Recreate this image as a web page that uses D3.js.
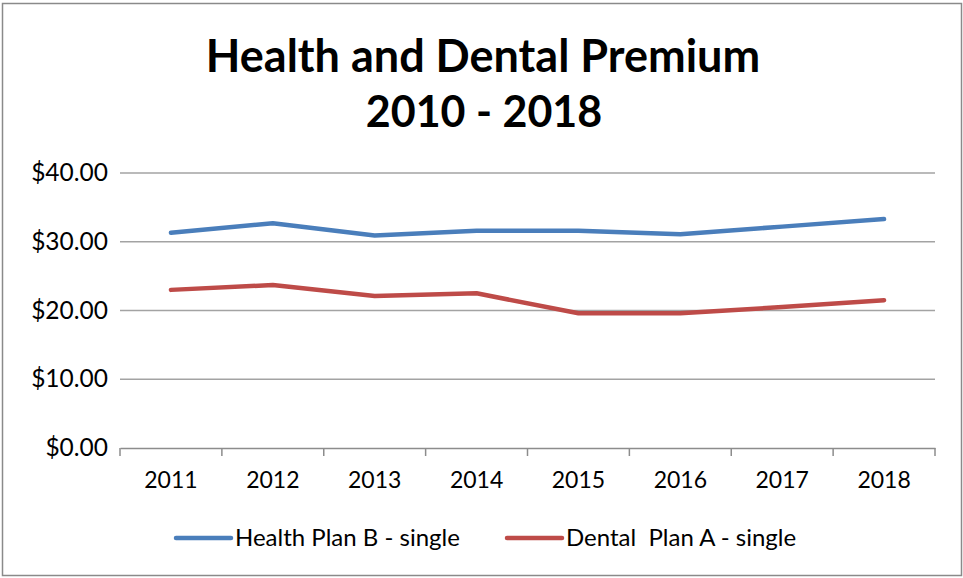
<!DOCTYPE html>
<html>
<head>
<meta charset="utf-8">
<script src="https://d3js.org/d3.v7.min.js"></script>
<style>
  body { margin: 0; background: #fff; }
  text { font-family: Lato, "Open Sans", sans-serif; fill: #000; }
</style>
</head>
<body>
<script>
// chart data
var years = ["2011", "2012", "2013", "2014", "2015", "2016", "2017", "2018"];
var health = [31.3, 32.7, 30.9, 31.6, 31.6, 31.1, 32.2, 33.3];
var dental = [23.0, 23.7, 22.1, 22.5, 19.6, 19.6, 20.5, 21.5];
var yTicks = [0, 10, 20, 30, 40];
var seriesNames = ["Health Plan B - single", "Dental  Plan A - single"];
var seriesColors = ["#4a7ebb", "#be4b48"];

var w = 963, h = 578;
var svg = d3.select("body").append("svg")
  .attr("width", w)
  .attr("height", h);

// outer frame
svg.append("rect")
  .attr("x", 2.5).attr("y", 3.5)
  .attr("width", 959).attr("height", 572)
  .attr("fill", "none")
  .attr("stroke", "#8a8a8a")
  .attr("stroke-width", 1.5);

// title
var title = svg.append("text")
  .attr("text-anchor", "middle")
  .attr("font-weight", "bold")
  .attr("font-size", 45);
title.append("tspan").attr("x", 483).attr("y", 72).text("Health and Dental Premium");
title.append("tspan").attr("x", 484).attr("y", 127).attr("font-size", 43).text("2010 - 2018");

var plotLeft = 120, plotRight = 935, plotTop = 173, plotBottom = 448;

var x = d3.scaleBand().domain(years).range([plotLeft, plotRight]);
var y = d3.scaleLinear().domain([0, 40]).range([plotBottom, plotTop]);

// gridlines
svg.append("g").selectAll("line")
  .data(yTicks.filter(function(d) { return d > 0; }))
  .enter().append("line")
  .attr("x1", plotLeft).attr("x2", plotRight)
  .attr("y1", function(d) { return y(d); })
  .attr("y2", function(d) { return y(d); })
  .attr("stroke", "#a3a3a3")
  .attr("stroke-width", 1.5);

// y labels
svg.append("g").selectAll("text")
  .data(yTicks)
  .enter().append("text")
  .attr("x", 108)
  .attr("y", function(d) { return y(d) + 8; })
  .attr("text-anchor", "end")
  .attr("font-size", 24.5)
  .text(function(d) { return d3.format("$.2f")(d); });

// x axis
var xAxis = d3.axisBottom(x).tickSize(0).tickPadding(24);
var gx = svg.append("g")
  .attr("transform", "translate(0," + plotBottom + ")")
  .call(xAxis);
gx.select(".domain").attr("stroke", "#8c8c8c").attr("stroke-width", 1.5);
gx.selectAll("text").attr("font-size", 23).attr("font-family", null);

// tick marks at category boundaries
var bounds = years.map(function(d) { return x(d); }).concat([plotRight]);
svg.append("g").selectAll("line")
  .data(bounds)
  .enter().append("line")
  .attr("x1", function(d) { return d; })
  .attr("x2", function(d) { return d; })
  .attr("y1", plotBottom).attr("y2", plotBottom + 8)
  .attr("stroke", "#8c8c8c")
  .attr("stroke-width", 1.5);

// lines
var line = d3.line()
  .x(function(d, i) { return x(years[i]) + x.bandwidth() / 2; })
  .y(function(d) { return y(d); });

[health, dental].forEach(function(s, i) {
  svg.append("path")
    .datum(s)
    .attr("d", line)
    .attr("fill", "none")
    .attr("stroke", seriesColors[i])
    .attr("stroke-width", 4.5)
    .attr("stroke-linecap", "round")
    .attr("stroke-linejoin", "round");
});

// legend
var legendX = [176, 507];
seriesNames.forEach(function(name, i) {
  var g = svg.append("g").attr("transform", "translate(" + legendX[i] + ",538)");
  g.append("line")
    .attr("x1", 0).attr("x2", 55)
    .attr("stroke", seriesColors[i])
    .attr("stroke-width", 4.5)
    .attr("stroke-linecap", "round");
  g.append("text")
    .attr("x", 59).attr("y", 8)
    .attr("font-size", 24)
    .style("white-space", "pre")
    .text(name);
});
</script>
</body>
</html>
